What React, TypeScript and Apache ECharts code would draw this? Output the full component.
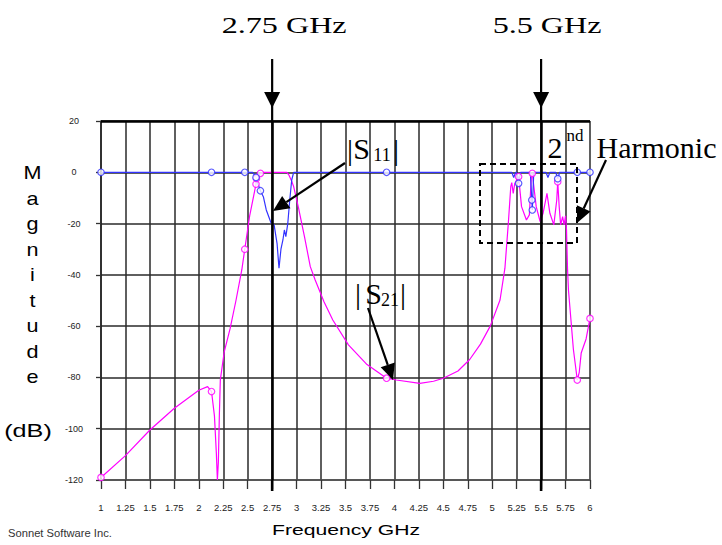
import React, { useEffect, useRef } from 'react';
import * as echarts from 'echarts';

// Axis ranges (GHz / dB)
const xMin = 1;
const xMax = 6;
const xStep = 0.25;
const yMin = -120;
const yMax = 20;
const yStep = 20;

// |S21| trace (magenta)
const s21: [number, number][] = [
  [1.0, -119], [1.25, -110.5], [1.5, -100.5], [1.75, -92], [2.0, -85], [2.09, -83.6],
  [2.13, -85.5], [2.16, -95], [2.18, -110], [2.19, -120], [2.2, -113], [2.21, -95],
  [2.22, -81], [2.26, -70], [2.32, -61], [2.38, -50], [2.44, -38], [2.47, -30],
  [2.52, -17], [2.585, -4.6], [2.59, -2.4], [2.63, -0.4], [2.66, 0], [2.9, 0],
  [2.92, -1], [2.95, -3.5], [2.97, -5.6], [3.02, -14], [3.08, -25], [3.14, -36.8],
  [3.19, -42], [3.28, -50.5], [3.37, -57.6], [3.53, -67.3], [3.72, -75], [3.92, -80.3],
  [4.02, -81], [4.26, -82.3], [4.4, -81.5], [4.5, -80.3], [4.65, -77.5], [4.77, -73],
  [4.88, -67], [4.98, -60], [5.08, -49.8], [5.13, -37.4], [5.165, -19.8], [5.19, -5.6],
  [5.2, -4], [5.215, -8.2], [5.23, -4.5], [5.25, -3], [5.27, -1.7], [5.3, -13.4],
  [5.35, -18.6], [5.38, -16.6], [5.4, -1.7], [5.41, -0.4], [5.45, -13.4], [5.49, -19.2],
  [5.52, -16], [5.56, -8.2], [5.59, -16], [5.63, -20.5], [5.66, -10.8], [5.67, -3.7],
  [5.685, -13.4], [5.7, -20.5], [5.72, -17.3], [5.735, -20.5], [5.75, -17], [5.76, -22.5],
  [5.77, -37.4], [5.78, -46], [5.83, -69], [5.87, -81], [5.89, -78], [5.91, -70.5],
  [5.96, -65], [6.0, -57],
];

// |S11| trace (blue)
const s11: [number, number][] = [
  [1.0, 0], [2.55, 0], [2.585, -2], [2.6, -4], [2.63, -7.2], [2.66, -9.5], [2.69, -14.7],
  [2.74, -19.9], [2.77, -20.5], [2.8, -27.7], [2.82, -37.4], [2.84, -30], [2.86, -26.4],
  [2.875, -22.5], [2.89, -25.1], [2.91, -19.9], [2.93, -10.8], [2.95, -3], [2.97, 0],
  [5.2, 0], [5.22, -2], [5.24, 0], [5.25, 0], [5.27, -4.3], [5.29, 0], [5.39, 0],
  [5.405, -10.8], [5.41, -14.7], [5.425, 0], [5.55, 0], [5.57, -2], [5.59, 0],
  [5.65, 0], [5.67, -2.5], [5.69, 0], [6.0, 0],
];

// Sampled points drawn as open circles
const s21Markers: [number, number][] = [
  [1.0, -119], [2.13, -85.5], [2.47, -30], [2.585, -4.6], [2.59, -2.4], [2.63, -0.4],
  [3.92, -80.3], [5.27, -1.7], [5.41, -0.4], [5.67, -3.7], [5.87, -81], [6.0, -57],
];
const s11Markers: [number, number][] = [
  [1.0, 0], [2.13, 0], [2.47, 0], [2.585, -2], [2.63, -7.2], [3.92, 0],
  [5.27, -4.3], [5.405, -10.8], [5.41, -14.7], [5.67, -2.5], [5.87, 0], [6.0, 0],
];

// Highlighted frequencies (GHz)
const markFreqs = [2.75, 5.5];
const markLabels = ['2.75 GHz', '5.5 GHz'];

const MAGENTA = '#ff00ff';
const BLUE = '#3333ff';
const SANS = 'Liberation Sans, Arial, sans-serif';
const SERIF = 'Liberation Serif, Times New Roman, serif';

function arrow(x1: number, y1: number, x2: number, y2: number, L = 16, W = 7.5) {
  const dx = x2 - x1;
  const dy = y2 - y1;
  const len = Math.hypot(dx, dy);
  const ux = dx / len;
  const uy = dy / len;
  const bx = x2 - ux * L;
  const by = y2 - uy * L;
  const px = -uy;
  const py = ux;
  return [
    { type: 'line', z: 100, silent: true, shape: { x1, y1, x2: bx, y2: by }, style: { stroke: '#000', lineWidth: 2.2 } },
    {
      type: 'polygon', z: 100, silent: true,
      shape: { points: [[x2, y2], [bx + px * W, by + py * W], [bx - px * W, by - py * W]] },
      style: { fill: '#000' },
    },
  ];
}

function txt(x: number, y: number, text: string, size: number, family: string, opts: any = {}) {
  return {
    type: 'text', z: 100, silent: true, x, y,
    scaleX: opts.scaleX ?? 1,
    style: {
      text, fontSize: size, fontFamily: family, fill: opts.fill ?? '#000',
      align: opts.align ?? 'center', verticalAlign: opts.verticalAlign ?? 'middle',
      lineHeight: opts.lineHeight,
    },
  };
}

export default function App() {
  const ref = useRef<HTMLDivElement>(null);

  useEffect(() => {
    if (!ref.current) return;
    const chart = echarts.init(ref.current, undefined, { renderer: 'svg' });
    const gridLine = { show: true, lineStyle: { color: '#2a2a2a', width: 1.5 } };
    const option: any = {
      animation: false,
      backgroundColor: '#fff',
      grid: { left: 101, right: 132, top: 121, bottom: 65 },
      xAxis: {
        type: 'value', min: xMin, max: xMax, interval: xStep,
        axisLine: { show: true, onZero: false, lineStyle: { color: '#555', width: 1.5 } },
        axisTick: { show: true, length: 9, lineStyle: { color: '#333', width: 1.3 } },
        axisLabel: { color: '#222', fontSize: 9.5, fontFamily: SANS, margin: 22 },
        splitLine: gridLine,
      },
      yAxis: {
        type: 'value', min: yMin, max: yMax, interval: yStep,
        axisLine: { show: true, onZero: false, lineStyle: { color: '#222', width: 1.5 } },
        axisTick: { show: true, length: 5, lineStyle: { color: '#333', width: 1.3 } },
        axisLabel: { color: '#222', fontSize: 9, fontFamily: SANS, margin: 27, align: 'center' },
        splitLine: gridLine,
      },
      series: [
        {
          name: '|S21|', type: 'line', data: s21, symbol: 'none', z: 3,
          lineStyle: { color: MAGENTA, width: 1.2 }, itemStyle: { color: MAGENTA },
          markLine: {
            silent: true, symbol: ['none', 'none'], label: { show: false },
            lineStyle: { color: '#000', width: 2.6, type: 'solid' },
            data: [...markFreqs.map((f) => ({ xAxis: f })), { yAxis: yMax }],
          },
        },
        {
          name: '|S11|', type: 'line', data: s11, symbol: 'none', z: 4,
          lineStyle: { color: BLUE, width: 1.2 }, itemStyle: { color: BLUE },
        },
        {
          name: 'S21 pts', type: 'scatter', data: s21Markers, symbol: 'circle', symbolSize: 6.5, z: 5,
          itemStyle: { color: '#fff', borderColor: MAGENTA, borderWidth: 1.2 },
        },
        {
          name: 'S11 pts', type: 'scatter', data: s11Markers, symbol: 'circle', symbolSize: 6.5, z: 6,
          itemStyle: { color: '#fff', borderColor: BLUE, borderWidth: 1.2 },
        },
      ],
    };
    chart.setOption(option);

    const top = chart.convertToPixel({ yAxisIndex: 0 }, yMax) as number;
    const bottom = chart.convertToPixel({ yAxisIndex: 0 }, yMin) as number;
    const graphics: any[] = [];
    markFreqs.forEach((f, i) => {
      const px = chart.convertToPixel({ xAxisIndex: 0 }, f) as number;
      graphics.push(
        { type: 'line', z: 100, silent: true, shape: { x1: px, y1: 59, x2: px, y2: top }, style: { stroke: '#000', lineWidth: 2.2 } },
        { type: 'line', z: 100, silent: true, shape: { x1: px, y1: bottom, x2: px, y2: bottom + 11 }, style: { stroke: '#000', lineWidth: 2.6 } },
        { type: 'polygon', z: 100, silent: true, shape: { points: [[px - 8, 92], [px + 8, 92], [px, 108]] }, style: { fill: '#000' } },
        txt(px + (i === 0 ? 12 : 6), 25, markLabels[i], 24, SERIF, { scaleX: 1.34 }),
      );
    });

    graphics.push(
      // |S11| label
      txt(350, 149, '|', 30, SERIF),
      txt(361.5, 148, 'S', 30, SERIF),
      txt(382, 155, '11', 18, SERIF),
      txt(396, 149, '|', 30, SERIF),
      ...arrow(345, 163, 273, 211),
      // |S21| label
      txt(358, 293, '|', 30, SERIF),
      txt(373.5, 293, 'S', 30, SERIF),
      txt(390, 300, '21', 18, SERIF),
      txt(403, 293, '|', 30, SERIF),
      ...arrow(368, 308, 393, 380),
      // 2nd Harmonic
      txt(555, 147, '2', 30, SERIF),
      txt(575, 135, 'nd', 17, SERIF),
      txt(656.5, 147, 'Harmonic', 30, SERIF),
      ...arrow(606, 160, 577, 223),
      {
        type: 'rect', z: 100, silent: true,
        shape: { x: 480, y: 164, width: 97, height: 79 },
        style: { fill: 'none', stroke: '#000', lineWidth: 2, lineDash: [6, 4] },
      },
      // axis titles
      txt(32.5, 160.25, 'M\na\ng\nn\ni\nt\nu\nd\ne', 18, SANS, { verticalAlign: 'top', lineHeight: 25.5, scaleX: 1.2 }),
      txt(28, 431, '(dB)', 18, SANS, { scaleX: 1.4 }),
      txt(346, 530, 'Frequency GHz', 15, SANS, { scaleX: 1.41 }),
      txt(8, 533, 'Sonnet Software Inc.', 10, SANS, { align: 'left', scaleX: 1.12, fill: '#333' }),
    );
    chart.setOption({ graphic: graphics });

    return () => chart.dispose();
  }, []);

  return <div ref={ref} style={{ position: 'fixed', left: 0, top: 0, width: 722, height: 545 }} />;
}
